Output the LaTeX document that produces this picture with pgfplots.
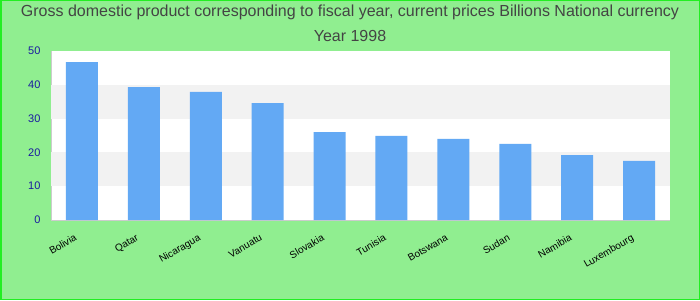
\documentclass[border=0pt]{standalone}
\usepackage{pgfplots}
\pgfplotsset{compat=1.18}
\usepackage{fontspec}
\setmainfont{Liberation Sans}
\definecolor{bg}{HTML}{90EE90}
\definecolor{frame}{HTML}{22EE22}
\definecolor{barc}{HTML}{63A9F4}
\definecolor{band}{HTML}{F2F2F2}
\definecolor{tickc}{HTML}{1A1AA0}
\definecolor{titlec}{HTML}{444444}
\begin{document}
\begin{tikzpicture}[x=1pt,y=1pt]
\useasboundingbox (0,0) rectangle (700,300);
\fill[bg] (0,0) rectangle (700,300);
\draw[frame,line width=1.5pt] (0.75,0.75) rectangle (699.25,299.25);
\node[text=titlec,font=\fontsize{16}{19}\selectfont,anchor=center] at (350,288) {Gross domestic product corresponding to fiscal year, current prices Billions National currency};
\node[text=titlec,font=\fontsize{16}{19}\selectfont,anchor=center] at (350,264) {Year 1998};
\begin{axis}[
  at={(51pt,80pt)}, anchor=south west,
  scale only axis, width=619pt, height=169pt,
  xmin=-0.5, xmax=9.5, ymin=0, ymax=50,
  axis background/.style={fill=white},
  axis line style={draw=black!20, line width=1pt},
  axis x line*=bottom, axis y line*=left,
  ytick={0,10,20,30,40,50},
  xtick={0,...,9},
  xticklabels={Bolivia,Qatar,Nicaragua,Vanuatu,Slovakia,Tunisia,Botswana,Sudan,Namibia,Luxembourg},
  x tick label style={xshift=-7pt, yshift=-9pt, rotate=30, anchor=north east, font=\fontsize{10}{12}\selectfont, text=black},
  y tick label style={xshift=-7pt, font=\fontsize{11}{13}\selectfont, text=tickc},
  /pgf/number format/assume math mode=true,
  major tick length=0pt,
  ybar, bar width=32pt,
  clip=false,
]
\fill[band] (axis cs:-0.5,10) rectangle (axis cs:9.5,20);
\fill[band] (axis cs:-0.5,30) rectangle (axis cs:9.5,40);
\addplot[fill=barc, draw=none] coordinates {(0,46.7) (1,39.3) (2,37.9) (3,34.6) (4,26.0) (5,24.9) (6,24.0) (7,22.5) (8,19.2) (9,17.5)};
\end{axis}
\end{tikzpicture}
\end{document}
